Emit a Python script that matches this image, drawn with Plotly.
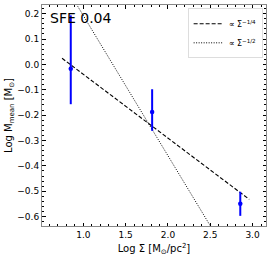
import plotly.graph_objects as go

# Data
log_sigma = [0.851, 1.813, 2.855]
log_mmean = [-0.017, -0.188, -0.549]
err_plus = [0.210, 0.090, 0.047]
err_minus = [0.140, 0.074, 0.048]

dash_x = [0.748, 2.961]
dash_y = [0.024, -0.532]
dot_x = [0.75, 2.96]
dot_y = [0.330, -0.890]

fig = go.Figure()
fig.add_trace(go.Scatter(x=dash_x, y=dash_y, mode="lines",
                         line=dict(color="black", width=1.1, dash="4px,2px"),
                         name="∝ Σ<sup>−1/4</sup>"))
fig.add_trace(go.Scatter(x=dot_x, y=dot_y, mode="lines",
                         line=dict(color="black", width=1.0, dash="1px,1.5px"),
                         name="∝ Σ<sup>−1/2</sup>"))
fig.add_trace(go.Scatter(x=log_sigma, y=log_mmean, mode="markers",
                         marker=dict(color="blue", size=4.5),
                         error_y=dict(type="data", array=err_plus, arrayminus=err_minus,
                                      color="blue", thickness=2, width=0),
                         showlegend=False))

axis_common = dict(showgrid=False, zeroline=False, showline=True, linecolor="#888888",
                   linewidth=1, mirror="allticks", ticks="inside", ticklen=3.5,
                   tickcolor="black", tickwidth=0.8,
                   tickfont=dict(family="DejaVu Sans", size=9, color="black"))

fig.update_layout(
    width=274, height=256,
    margin=dict(l=42, r=8, t=5, b=30),
    paper_bgcolor="white", plot_bgcolor="white",
    font=dict(family="DejaVu Sans", color="black"),
    xaxis=dict(range=[0.511, 3.159], dtick=0.5, tickformat=".1f",
               minor=dict(dtick=0.1, ticks="inside", ticklen=2, tickcolor="black"),
               title=dict(text="Log Σ [M<sub>⊙</sub>/pc<sup>2</sup>]", font=dict(size=10), standoff=8),
               automargin=False,
               **axis_common),
    yaxis=dict(range=[-0.637, 0.234], dtick=0.1, tickformat=".1f",
               minor=dict(dtick=0.02, ticks="inside", ticklen=2, tickcolor="black"),
               title=dict(text="Log M<sub>mean</sub> [M<sub>⊙</sub>]", font=dict(size=10), standoff=2),
               automargin=False,
               **axis_common),
    legend=dict(x=0.985, y=0.985, xanchor="right", yanchor="top",
                bgcolor="white", bordercolor="#dddddd", borderwidth=1,
                font=dict(size=8), itemwidth=30, tracegroupgap=0),
    annotations=[dict(text="SFE 0.04", x=0.025, y=0.985, xref="paper", yref="paper",
                      xanchor="left", yanchor="top", showarrow=False,
                      font=dict(size=14, color="black"))],
)

fig.write_html("out.html", config={"displayModeBar": False},
               post_script="document.body.style.margin='0';document.body.style.overflow='hidden';")
